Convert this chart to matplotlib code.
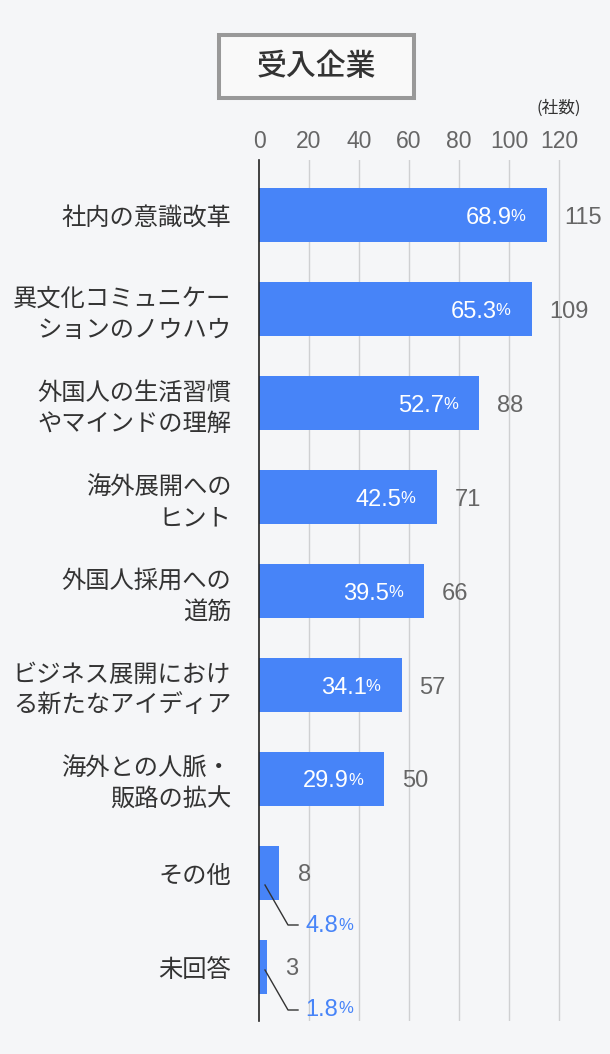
import matplotlib
matplotlib.use("Agg")
import matplotlib.pyplot as plt
from matplotlib.patches import Rectangle
from matplotlib.lines import Line2D

# ---- data ----
categories = [
    "社内の意識改革",
    "異文化コミュニケー\nションのノウハウ",
    "外国人の生活習慣\nやマインドの理解",
    "海外展開への\nヒント",
    "外国人採用への\n道筋",
    "ビジネス展開におけ\nる新たなアイディア",
    "海外との人脈・\n販路の拡大",
    "その他",
    "未回答",
]
counts = [115, 109, 88, 71, 66, 57, 50, 8, 3]
percents = [68.9, 65.3, 52.7, 42.5, 39.5, 34.1, 29.9, 4.8, 1.8]
xticks = [0, 20, 40, 60, 80, 100, 120]
title = "受入企業"
unit_label = "(社数)"

# ---- style ----
BG = "#f5f6f8"
BAR = "#4784f8"
GRID = "#cfd0d2"
TXT = "#333333"
GREY = "#666666"
JP = ["Noto Sans CJK JP", "DejaVu Sans"]
NUM = ["Liberation Sans", "DejaVu Sans"]

W, H = 610, 1054
fig = plt.figure(figsize=(W / 100, H / 100), dpi=100, facecolor=BG)

def fx(px):
    return px / W

def fy(py):
    return 1 - py / H

# axes: x 0 at px 259, 2.5 px per unit; y from px 160 to 1020
ax_left, ax_right = 259, 609
ax_top, ax_bot = 160, 1021
ax = fig.add_axes([fx(ax_left), fy(ax_bot), (ax_right - ax_left) / W, (ax_bot - ax_top) / H])
ax.set_facecolor(BG)
ax.set_xlim(0, (ax_right - ax_left) / 2.5)
ypix_center0 = 215
ystep = 94
ax.set_ylim((ax_bot - ypix_center0) / ystep, (ax_top - ypix_center0) / ystep)

ypos = list(range(len(categories)))
ax.barh(ypos, counts, height=0.575, color=BAR, zorder=3)

# grid
for t in xticks[1:]:
    ax.axvline(t, color=GRID, lw=1, zorder=1)
for s in ["top", "right", "bottom"]:
    ax.spines[s].set_visible(False)
ax.spines["left"].set_color("#222222")
ax.spines["left"].set_linewidth(1.2)
ax.spines["left"].set_zorder(4)

ax.xaxis.tick_top()
ax.set_xticks(xticks)
ax.set_xticklabels([str(t) for t in xticks], fontfamily=NUM, fontsize=16.5, color=GREY)
ax.tick_params(axis="x", length=0, pad=5)
ax.set_yticks(ypos)
ax.set_yticklabels(categories, fontfamily=JP, fontsize=17.5, color=TXT, linespacing=1.25)
ax.tick_params(axis="y", length=0, pad=20)

# value labels
for i, (c, p) in enumerate(zip(counts, percents)):
    if c >= 20:
        ax.annotate("%", (c, i), xytext=(-21, 0), textcoords="offset pixels",
                    ha="right", va="center_baseline", fontsize=12, color="white",
                    fontfamily=NUM, zorder=5)
        ax.annotate(f"{p}", (c, i), xytext=(-35, 0), textcoords="offset pixels",
                    ha="right", va="center_baseline", fontsize=17, color="white",
                    fontfamily=NUM, zorder=5)
        ax.annotate(str(c), (c, i), xytext=(18, 0), textcoords="offset pixels",
                    ha="left", va="center_baseline", fontsize=17, color=GREY,
                    fontfamily=NUM, zorder=5)
    else:
        ax.annotate(str(c), (c, i), xytext=(19, 0), textcoords="offset pixels",
                    ha="left", va="center_baseline", fontsize=17, color=GREY,
                    fontfamily=NUM, zorder=5)

# leader lines for the small bars (pixel offsets relative to bar start/centre)
leader_specs = {7: (12, 52, 51), 8: (3, 43, 40)}
for i, (d0, d1, dt) in leader_specs.items():
    x0, y0 = 265, ypix_center0 + ystep * i + d0
    x1, y1 = 288, ypix_center0 + ystep * i + d1
    x2 = 298
    fig.add_artist(Line2D([fx(x0), fx(x1), fx(x2)], [fy(y0), fy(y1), fy(y1)],
                          color="#333333", lw=1.0, zorder=6))
    ty = ypix_center0 + ystep * i + dt
    fig.text(fx(305), fy(ty), f"{percents[i]}", fontsize=17, color=BAR,
             fontfamily=NUM, ha="left", va="center_baseline")
    fig.text(fx(338), fy(ty), "%", fontsize=12, color=BAR,
             fontfamily=NUM, ha="left", va="center_baseline")

# title box
fig.add_artist(Rectangle((fx(219), fy(98)), fx(414) - fx(219), fy(35) - fy(98),
                         facecolor="#f9f9f9", edgecolor="#999999", lw=2.9,
                         transform=fig.transFigure))
fig.text(fx(316), fy(67), title, fontsize=21.5, color=TXT, fontfamily=JP,
         fontweight="medium", ha="center", va="center")
fig.text(fx(581), fy(108), unit_label, fontsize=12, color=TXT, fontfamily=JP,
         ha="right", va="center")

fig.savefig("out.png", dpi=100, facecolor=BG)
